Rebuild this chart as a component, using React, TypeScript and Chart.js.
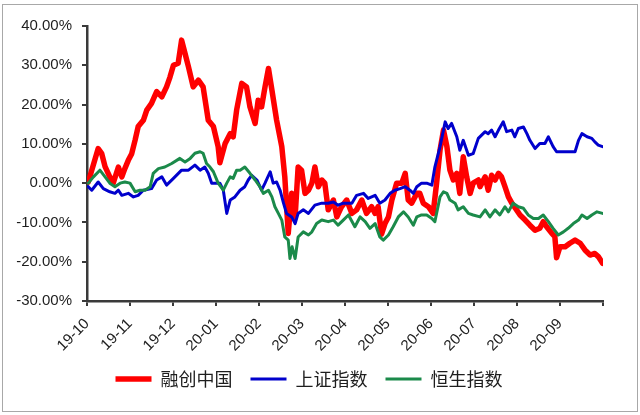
import React, { useRef, useEffect } from 'react';
import { Chart, registerables } from 'chart.js';

Chart.register(...registerables);

// Etiquetas de los meses (inicio de cada mes)
const monthLabels = ['19-10', '19-11', '19-12', '20-01', '20-02', '20-03', '20-04', '20-05', '20-06', '20-07', '20-08', '20-09'];

const seriesNames = ['融创中国', '上证指数', '恒生指数'];

// 融创中国: posición en meses desde 19-10 y rendimiento acumulado (%)
const redAt = [0.03, 0.26, 0.34, 0.42, 0.53, 0.61, 0.73, 0.81, 0.88, 0.96, 1.04, 1.12, 1.19, 1.31, 1.39, 1.5, 1.62, 1.74, 1.85, 1.93, 2.01, 2.12, 2.2, 2.28, 2.36, 2.47, 2.59, 2.7, 2.82, 2.94, 3.05, 3.09, 3.21, 3.33, 3.4, 3.48, 3.6, 3.71, 3.79, 3.91, 3.98, 4.06, 4.14, 4.22, 4.3, 4.41, 4.53, 4.6, 4.68, 4.76, 4.84, 4.91, 4.99, 5.07, 5.15, 5.23, 5.3, 5.38, 5.46, 5.53, 5.61, 5.73, 5.81, 5.92, 6.04, 6.16, 6.27, 6.39, 6.5, 6.62, 6.7, 6.77, 6.85, 6.93, 7.01, 7.09, 7.2, 7.32, 7.4, 7.47, 7.55, 7.67, 7.74, 7.82, 7.94, 8.05, 8.13, 8.21, 8.29, 8.37, 8.44, 8.52, 8.6, 8.67, 8.75, 8.83, 8.91, 8.98, 9.1, 9.14, 9.26, 9.33, 9.41, 9.49, 9.57, 9.64, 9.72, 9.8, 9.88, 9.99, 10.07, 10.19, 10.3, 10.42, 10.53, 10.61, 10.69, 10.81, 10.88, 10.92, 11.0, 11.12, 11.23, 11.35, 11.47, 11.58, 11.7, 11.81, 11.89, 11.99];
const redValues = [0.3, 8.8, 7.6, 4.2, 1.6, 0, 4.1, 1.6, 3.7, 5.8, 7.5, 11, 14.4, 16, 18.6, 20.3, 23.3, 22, 24.5, 27, 30, 30.5, 36.4, 33, 29.6, 24.5, 26.2, 24.5, 16, 14.4, 9.3, 5.2, 10, 12.6, 11.8, 18.6, 25.4, 24.5, 19.4, 15.2, 21.1, 19.4, 24.5, 29.2, 23.7, 16, 9.3, 1.6, -12.8, -2.6, -8.6, 4.1, 3.3, -2.6, -1.8, 0, 4.1, -0.9, 0.8, 0, -6.8, -4.3, -8.6, -6, -4.3, -7.7, -6.8, -4.3, -7.7, -6, -7.7, -6, -13, -10.3, -8.6, -4.3, 0, 0, 2.5, -4.3, -5.1, -2.6, -2.6, -5.1, -6, -7.7, 0, 8.4, 13.5, 9.3, 3.3, 0.8, 2.5, -2.6, 6.7, 1.6, -2.6, 0, 0.8, -0.9, 1.6, -1.8, 2, 0.8, 2.5, 1.6, -0.9, -3.5, -5.1, -6.8, -8.1, -9.4, -10.7, -12, -11.5, -9.8, -11.1, -12.8, -13.6, -19, -16.2, -16.2, -15.3, -14.5, -15.3, -17, -18.3, -17.9, -18.7, -20.4];

// 上证指数
const blueAt = [0.03, 0.11, 0.26, 0.38, 0.53, 0.65, 0.73, 0.81, 0.96, 1.08, 1.19, 1.31, 1.5, 1.62, 1.74, 1.85, 2.01, 2.2, 2.36, 2.51, 2.63, 2.74, 2.82, 2.9, 3.02, 3.09, 3.17, 3.25, 3.33, 3.44, 3.56, 3.67, 3.75, 3.83, 3.95, 4.06, 4.14, 4.26, 4.33, 4.41, 4.49, 4.57, 4.64, 4.76, 4.84, 4.91, 5.03, 5.15, 5.3, 5.46, 5.61, 5.73, 5.84, 5.96, 6.16, 6.27, 6.43, 6.54, 6.7, 6.81, 6.93, 7.05, 7.16, 7.28, 7.4, 7.51, 7.59, 7.67, 7.78, 7.9, 8.02, 8.09, 8.21, 8.33, 8.4, 8.48, 8.6, 8.67, 8.75, 8.87, 8.98, 9.1, 9.26, 9.33, 9.41, 9.49, 9.57, 9.68, 9.76, 9.88, 9.95, 10.03, 10.15, 10.23, 10.3, 10.42, 10.53, 10.65, 10.73, 10.84, 10.92, 11.08, 11.23, 11.35, 11.43, 11.51, 11.63, 11.74, 11.81, 11.89, 11.99];
const blueValues = [-0.9, -1.8, 0.3, -1.4, -2.2, -2.6, -1.8, -3.1, -2.6, -3.5, -3.1, -1.8, -1.4, 0.8, 1.6, -0.5, 1.2, 3.3, 3.3, 4.6, 3.3, 4.1, 2.5, 0, 0, 0, -1.8, -7.7, -4.3, -3.5, -1.8, -0.9, 0.8, 2, 0.8, -1.8, 0, 2.9, 0, 0.3, -1.8, -5.1, -7.7, -8.6, -10.3, -7.7, -6.8, -7.7, -5.6, -5.1, -5.1, -4.8, -5.6, -5.1, -5.1, -3.1, -2.6, -3.9, -3.1, -5.1, -4.3, -2.6, -1.8, -1.4, -0.9, -1.8, -2.6, -0.9, 0, 0, -0.5, 4.1, 9.3, 15.6, 13.9, 15.2, 11.8, 8.4, 10.9, 7.1, 7.5, 11.4, 13.1, 12.6, 13.5, 11.8, 13.5, 15.6, 13.1, 13.5, 11.8, 13.9, 14.3, 12.6, 10.9, 8.8, 10.1, 10.1, 11.8, 9.3, 8, 8, 8, 8, 10.9, 12.6, 11.8, 11.4, 10.5, 9.7, 9.3];

// 恒生指数
const greenAt = [0.03, 0.15, 0.3, 0.42, 0.53, 0.65, 0.77, 0.88, 1.0, 1.12, 1.23, 1.35, 1.47, 1.54, 1.66, 1.81, 1.97, 2.16, 2.28, 2.4, 2.51, 2.63, 2.7, 2.78, 2.86, 2.94, 3.05, 3.17, 3.25, 3.33, 3.4, 3.48, 3.56, 3.67, 3.79, 3.91, 4.02, 4.1, 4.22, 4.3, 4.37, 4.45, 4.53, 4.6, 4.68, 4.72, 4.77, 4.84, 4.91, 5.03, 5.15, 5.23, 5.34, 5.46, 5.61, 5.73, 5.84, 5.96, 6.08, 6.23, 6.35, 6.47, 6.58, 6.7, 6.81, 6.89, 7.01, 7.12, 7.24, 7.36, 7.47, 7.59, 7.67, 7.78, 7.9, 8.02, 8.09, 8.21, 8.29, 8.37, 8.44, 8.56, 8.63, 8.75, 8.87, 8.98, 9.14, 9.26, 9.37, 9.49, 9.6, 9.72, 9.8, 9.91, 10.03, 10.15, 10.26, 10.38, 10.5, 10.61, 10.73, 10.84, 10.96, 11.08, 11.19, 11.31, 11.43, 11.51, 11.63, 11.74, 11.86, 11.99];
const greenValues = [0, 1.6, 3.3, 1.6, 0, -0.9, 0, 0.3, 0, -2.2, -1.8, -1.8, -0.9, 2.5, 3.7, 4.1, 5, 6.3, 5.4, 6.3, 7.6, 8, 7.6, 5, 4.1, 2.9, 0, -1.8, 0, 1.6, 1.2, 3.3, 3.3, 4.1, 2.5, 0.8, -0.9, -2.6, -1.8, -3.5, -6, -7.7, -9.4, -13.7, -14.5, -19.2, -16.2, -19.2, -13.7, -12.4, -13.2, -12.4, -10.3, -9.4, -9.8, -9.4, -10.7, -9.4, -8.1, -11.1, -8.6, -9.8, -11.5, -10.3, -13.7, -14.5, -13.2, -11.1, -8.6, -7.3, -8.6, -10.7, -8.6, -8.1, -8.1, -9, -9.8, -3.5, -2.2, -2.6, -4.3, -5.1, -6.8, -6, -7.7, -8.1, -8.6, -6.8, -8.6, -6.8, -8.1, -6, -7.3, -5.1, -6, -6.4, -8.1, -9, -9, -8.1, -9.8, -11.5, -13.2, -12.4, -11.5, -10.3, -9.4, -8.1, -9, -8.1, -7.3, -7.7];

const yTicks = [-30, -20, -10, 0, 10, 20, 30, 40];

const toPoints = (at: number[], values: number[]) => at.map((x, i) => ({ x, y: values[i] }));

const axisColor = '#3a3a3a';
const textColor = '#1e1e1e';

const App: React.FC = () => {
  const chartRef = useRef<HTMLCanvasElement | null>(null);

  useEffect(() => {
    if (!chartRef.current) return;
    const ctx = chartRef.current.getContext('2d');
    if (!ctx) return;

    const chart = new Chart(ctx, {
      type: 'line',
      data: {
        datasets: [
          {
            label: seriesNames[0],
            data: toPoints(redAt, redValues),
            borderColor: '#ff0000',
            backgroundColor: '#ff0000',
            borderWidth: 5.5,
            order: 3,
          },
          {
            label: seriesNames[1],
            data: toPoints(blueAt, blueValues),
            borderColor: '#0000cc',
            backgroundColor: '#0000cc',
            borderWidth: 3,
            order: 2,
          },
          {
            label: seriesNames[2],
            data: toPoints(greenAt, greenValues),
            borderColor: '#1b8a4a',
            backgroundColor: '#1b8a4a',
            borderWidth: 3,
            order: 1,
          },
        ],
      },
      options: {
        responsive: false,
        animation: false,
        layout: { padding: { top: 26, left: 15, right: 37, bottom: 17 } },
        elements: {
          point: { radius: 0, hoverRadius: 0 },
          line: { tension: 0, borderJoinStyle: 'round', borderCapStyle: 'round' },
        },
        scales: {
          x: {
            type: 'linear',
            min: 0,
            max: monthLabels.length,
            afterFit: (scale: any) => {
              scale.height = 51;
            },
            border: { display: true, color: axisColor, width: 2.5 },
            grid: { drawOnChartArea: false, drawTicks: true, tickLength: 5, color: axisColor, lineWidth: 2 },
            ticks: {
              stepSize: 1,
              autoSkip: false,
              minRotation: 45,
              maxRotation: 45,
              padding: 9,
              color: textColor,
              font: { family: '"Liberation Sans", Arial, sans-serif', size: 15 },
              callback: (v: any) => monthLabels[Number(v)] ?? '',
            },
          },
          y: {
            min: yTicks[0],
            max: yTicks[yTicks.length - 1],
            afterFit: (scale: any) => {
              scale.width = 72;
            },
            afterBuildTicks: (scale: any) => {
              scale.ticks = yTicks.map((value) => ({ value }));
            },
            border: { display: true, color: axisColor, width: 2.5 },
            grid: { drawOnChartArea: false, drawTicks: true, tickLength: 5, color: axisColor, lineWidth: 2 },
            ticks: {
              padding: 10,
              color: textColor,
              font: { family: '"Liberation Sans", Arial, sans-serif', size: 15 },
              callback: (v: any) => Number(v).toFixed(2) + '%',
            },
          },
        },
        plugins: {
          tooltip: { enabled: false },
          legend: {
            position: 'bottom',
            labels: {
              usePointStyle: true,
              pointStyle: 'line',
              pointStyleWidth: 36,
              padding: 18,
              color: textColor,
              font: { family: '"Noto Sans CJK SC", sans-serif', size: 18 },
              sort: (a: any, b: any) => a.datasetIndex - b.datasetIndex,
            },
          },
        },
      },
    });

    return () => {
      chart.destroy();
    };
  }, []);

  return (
    <div style={{ position: 'fixed', left: 0, top: 0, width: 640, height: 415, background: '#ffffff' }}>
      <canvas ref={chartRef} width={640} height={415} />
      <div
        style={{
          position: 'absolute',
          left: 2,
          top: 4,
          width: 634,
          height: 406,
          border: '1px solid #a8a8a8',
          pointerEvents: 'none',
        }}
      />
    </div>
  );
};

export default App;
